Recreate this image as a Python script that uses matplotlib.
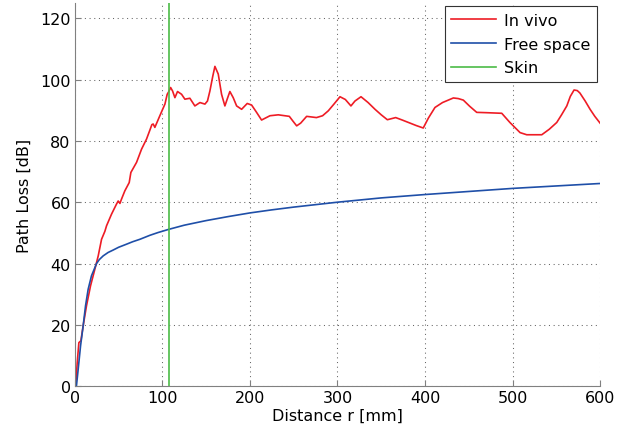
import matplotlib
matplotlib.use("Agg")
import matplotlib.pyplot as plt

invivo_r = [1.0, 2.7, 4.6, 6.9, 9.5, 13.3, 17.9, 22.9, 26.7, 30.5, 34.3, 36.2, 41.9,
            47.6, 49.5, 51.5, 53.3, 57.1, 62.1, 64.0, 70.5, 76.2, 81.9, 85.7, 88.0,
            89.5, 91.4, 97.1, 102.9, 105.5, 107.2, 109.4, 111.6, 114.3, 117.3, 121.9,
            125.7, 131.4, 137.1, 142.9, 148.6, 151.5, 154.3, 157.5, 160.0, 163.8,
            167.6, 171.4, 174.5, 177.1, 180.9, 184.8, 190.5, 196.9, 201.9, 207.6,
            213.3, 222.9, 232.4, 245.0, 249.0, 253.4, 258.0, 264.8, 276.0, 283.0,
            289.5, 296.0, 302.9, 309.0, 315.4, 320.0, 326.9, 335.0, 342.9, 350.0,
            357.0, 366.5, 374.0, 382.9, 390.0, 398.0, 404.0, 411.4, 420.0, 432.4,
            438.0, 443.8, 451.0, 459.1, 470.0, 487.7, 497.0, 508.6, 516.2, 525.0,
            533.4, 542.0, 550.5, 556.0, 562.0, 566.0, 570.3, 574.0, 577.0, 583.0,
            588.6, 594.0, 600.0]
invivo_db = [0.3, 7.7, 14.2, 14.8, 19.7, 26.2, 32.7, 38.2, 42.5, 47.9, 50.5, 52.3, 56.1,
             59.4, 60.4, 59.6, 61.0, 63.7, 66.4, 69.7, 73.0, 77.3, 80.6, 83.5, 85.3,
             85.5, 84.4, 88.2, 92.0, 95.2, 96.0, 97.4, 96.3, 94.1, 96.1, 95.2,
             93.6, 93.9, 91.4, 92.5, 92.0, 93.0, 96.3, 101.0, 104.3, 101.8,
             95.2, 91.4, 94.0, 96.1, 94.1, 91.4, 90.3, 92.2, 91.7, 89.3,
             86.8, 88.2, 88.5, 88.0, 86.5, 84.9, 85.8, 88.0, 87.6, 88.2,
             89.8, 92.0, 94.4, 93.5, 91.4, 93.0, 94.4, 92.5, 90.3, 88.5,
             86.9, 87.6, 86.8, 85.8, 85.0, 84.2, 87.5, 90.9, 92.5, 94.0,
             93.8, 93.3, 91.3, 89.3, 89.2, 89.0, 86.0, 82.7, 82.0, 82.0,
             82.0, 83.8, 86.0, 88.5, 91.4, 94.5, 96.6, 96.4, 95.6, 93.0,
             90.3, 88.0, 85.8]

# free space reference
free_r = [1.9, 3.8, 6.5, 9.5, 12.2, 15.2, 19.0, 24.8, 28.0, 32.4, 38.0, 43.8, 50.0,
          59.0, 66.0, 74.3, 85.7, 95.0, 106.7, 125.0, 150.0, 175.0, 200.0, 225.0,
          250.0, 275.0, 300.0, 350.0, 400.0, 450.0, 500.0, 550.0, 600.0]
free_db = [0.3, 5.5, 13.1, 19.7, 26.2, 31.6, 36.0, 40.0, 41.3, 42.5, 43.6, 44.4, 45.3,
           46.3, 47.1, 47.9, 49.2, 50.1, 51.1, 52.5, 54.0, 55.3, 56.5, 57.5,
           58.4, 59.2, 60.0, 61.4, 62.5, 63.5, 64.5, 65.3, 66.1]

skin_r = 108

plt.rcParams["font.family"] = ["DejaVu Sans"]
plt.rcParams["font.size"] = 11.5

fig = plt.figure(figsize=(6.29, 4.35), dpi=100)
ax = fig.add_axes([0.119, 0.110, 0.835, 0.881])

ax.plot(invivo_r, invivo_db, color="#ee1c25", lw=1.2, label="In vivo")
ax.plot(free_r, free_db, color="#1f4fa8", lw=1.2, label="Free space")
ax.axvline(skin_r, color="#4cbb47", lw=1.2, label="Skin")

ax.set_xlim(0, 600)
ax.set_ylim(0, 125)
ax.set_xticks(range(0, 601, 100))
ax.set_yticks(range(0, 121, 20))
ax.grid(True, linestyle=(0, (1, 3.5)), color="#666666", lw=0.75)
for side in ("top", "right"):
    ax.spines[side].set_visible(False)
for side in ("left", "bottom"):
    ax.spines[side].set_color("#808080")
ax.tick_params(direction="in", length=4, color="#808080", pad=3)

ax.set_xlabel("Distance r [mm]", labelpad=2)
ax.set_ylabel("Path Loss [dB]", labelpad=6)

leg = ax.legend(loc="upper right", bbox_to_anchor=(0.997, 0.995), borderaxespad=0.1,
                fancybox=False, edgecolor="#333333", framealpha=1,
                handlelength=2.8, handletextpad=0.5, labelspacing=0.55,
                borderpad=0.4)
leg.get_frame().set_linewidth(0.8)

fig.savefig("out.png", dpi=100, facecolor="white")
